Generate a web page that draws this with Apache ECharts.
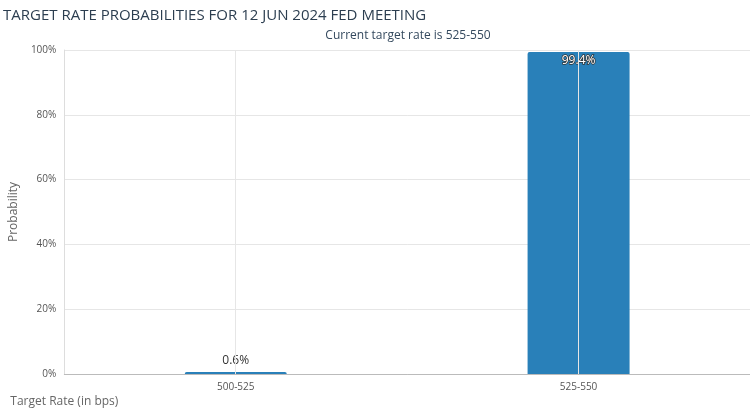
<!DOCTYPE html><html><head><meta charset="utf-8"><script src="https://cdn.jsdelivr.net/npm/echarts@6/dist/echarts.min.js"></script></head><body style="margin:0"><div id="c" style="width:750px;height:417px"></div><script>
const categories=["500-525","525-550"];
const probabilities=[0.6,99.4];
const yTicks=[0,20,40,60,80,100];
const ch=echarts.init(document.getElementById('c'));
const f="'Open Sans', sans-serif";
ch.setOption({
 title:[{text:"TARGET RATE PROBABILITIES FOR 12 JUN 2024 FED MEETING",left:-2,top:3,textStyle:{fontFamily:f,fontSize:15,fontWeight:'normal',color:'#2c3e50'}},
 {text:"Current target rate is 525-550",left:403,top:25,textAlign:'center',textStyle:{fontFamily:f,fontSize:12,fontWeight:'normal',color:'#34495e'}}],
 grid:{left:57,width:742,top:50,bottom:43},
 xAxis:{type:'category',data:categories,name:'Target Rate (in bps)',nameLocation:'start',nameGap:0,
  nameTextStyle:{fontFamily:f,fontSize:12,color:'#666',align:'center',verticalAlign:'top',padding:[22,0,0,0]},
  axisLine:{lineStyle:{color:'#bbb'}},axisTick:{alignWithLabel:true,lineStyle:{color:'#ddd'}},
  axisLabel:{fontFamily:f,fontSize:10,color:'#555',margin:8},
  splitLine:{show:false}},
 yAxis:{type:'value',min:0,max:100,interval:20,name:'Probability',nameLocation:'middle',nameGap:43,
  nameTextStyle:{fontFamily:f,fontSize:12,color:'#666'},
  axisLine:{show:true,lineStyle:{color:'#ddd'}},
  axisLabel:{fontFamily:f,fontSize:10,color:'#555',formatter:v=>yTicks.includes(v)?v+'%':''},
  splitLine:{lineStyle:{color:'#e6e6e6'}}},
 series:[{type:'bar',data:[probabilities[0],{value:probabilities[1],label:{position:'insideTop',offset:[0,-2],color:'#fff',textBorderColor:'#333',textBorderWidth:1.5}}],barWidth:102,
  itemStyle:{color:'#2980b9',borderRadius:[2,2,0,0]},
  label:{show:true,formatter:p=>p.value+'%',fontFamily:f,fontSize:12,position:'top',color:'#333'},
  markLine:{silent:true,symbol:'none',label:{show:false},lineStyle:{color:'#e6e6e6',type:'solid',width:1},
   data:categories.map(c=>({xAxis:c}))},z:2}]
});
</script></body></html>
